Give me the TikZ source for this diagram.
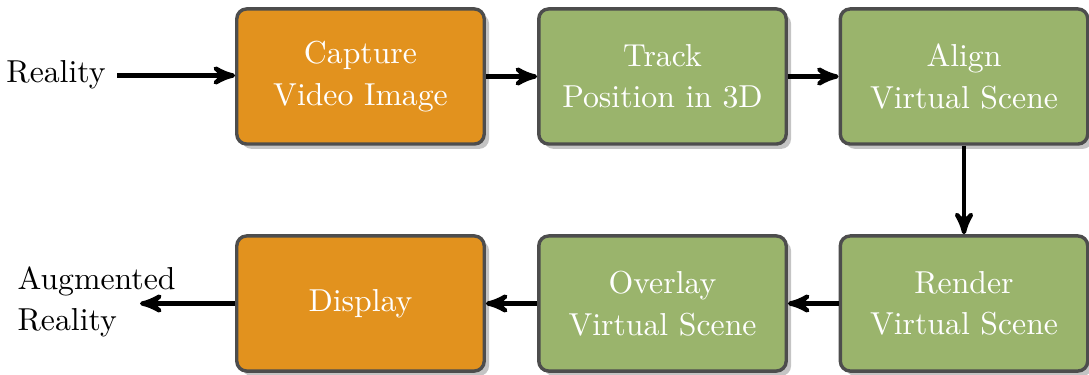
\documentclass[tikz,border=0pt]{standalone}
\usetikzlibrary{shadows,arrows}
\definecolor{boxorange}{HTML}{E2921E}
\definecolor{boxgreen}{HTML}{9AB46C}
\definecolor{boxborder}{HTML}{4D4D4D}
\definecolor{shadowgray}{HTML}{C4C4C4}
\begin{document}
\begin{tikzpicture}[x=0.0114cm, y=-0.0114cm,
  font=\fontsize{10.3}{13.4}\selectfont,
  stagebox/.style={draw=boxborder, line width=1.1pt, rounded corners=3.2pt,
    minimum width=2.82cm, minimum height=1.54cm, text=white, align=center,
    inner sep=0pt,
    drop shadow={shadow xshift=0.055cm, shadow yshift=-0.055cm, fill=shadowgray, opacity=1}},
  orangebox/.style={stagebox, fill=boxorange},
  greenbox/.style={stagebox, fill=boxgreen},
  flow/.style={-stealth', line width=1.4pt}
]
\useasboundingbox (0,0) rectangle (1089,375);
\node[orangebox] (cap) at (360.5,76.5) {Capture\\Video Image};
\node[greenbox] (track) at (662.5,76.5) {Track\\Position in 3D};
\node[greenbox] (align) at (964,76.5) {Align\\Virtual Scene};
\node[greenbox] (render) at (964,303.5) {Render\\Virtual Scene};
\node[greenbox] (overlay) at (662.5,303.5) {Overlay\\Virtual Scene};
\node[orangebox] (disp) at (360.5,303.5) {Display};
\node[inner sep=0pt] (real) at (56,75) {Reality};
\node[inner sep=0pt, align=left, anchor=west] (aug) at (17,302) {Augmented\\Reality};
\coordinate (realend) at (117,75.5);
\coordinate (augend) at (140,303.5);
\draw[flow] (realend) -- (cap.west |- realend);
\draw[flow] (cap) -- (track);
\draw[flow] (track) -- (align);
\draw[flow] (align) -- (render);
\draw[flow] (render) -- (overlay);
\draw[flow] (overlay) -- (disp);
\draw[flow] (disp.west) -- (augend);
\end{tikzpicture}
\end{document}
